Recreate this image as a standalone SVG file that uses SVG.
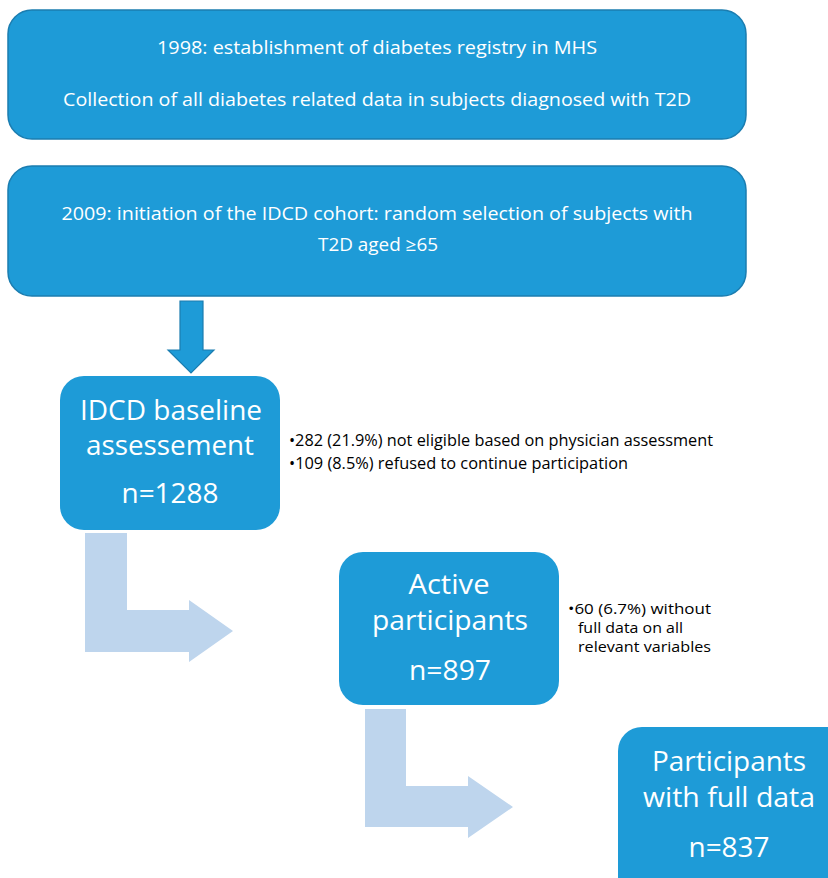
<svg xmlns="http://www.w3.org/2000/svg" width="828" height="878" viewBox="0 0 828 878">
  <style>
    .box { fill: #1E9BD7; }
    .boxline { stroke: #1B7DB0; stroke-width: 1.5; }
    .t { font-family: "Open Sans", "Noto Sans", "Liberation Sans", sans-serif; fill: #FFFFFF; text-anchor: middle; }
    .mid { font-size: 18px; }
    .big { font-size: 28px; }
    .note { font-family: "Open Sans", "Noto Sans", "Liberation Sans", sans-serif; fill: #000000; font-size: 15.5px; }
    .note.tight { font-size: 14px; }
    .down { fill: #1E9BD7; stroke: #1B7DB0; stroke-width: 1.2; }
    .bend { fill: #BED5ED; }
  </style>
  <rect width="828" height="878" fill="#FFFFFF"/>

  <g id="connectors">
    <path class="down" d="M180,301 H203 V350 H214 L191,373 L168,350 H180 Z"/>
    <path class="bend" d="M85,533 H127 V610 H189 V600 L233,631 L189,662 V652 H85 Z"/>
    <path class="bend" d="M365,709 H406 V786 H468 V776 L513,807 L468,838 V827 H365 Z"/>
  </g>

  <g id="registry">
    <rect class="box boxline" x="8" y="10" width="738" height="129" rx="24"/>
    <text class="t mid" x="377" y="54" textLength="440" lengthAdjust="spacingAndGlyphs">1998: establishment of diabetes registry in MHS</text>
    <text class="t mid" x="377" y="106" textLength="628" lengthAdjust="spacingAndGlyphs">Collection of all diabetes related data in subjects diagnosed with T2D</text>
  </g>

  <g id="cohort">
    <rect class="box boxline" x="8" y="166" width="738" height="130" rx="24"/>
    <text class="t mid" x="377" y="220" textLength="631" lengthAdjust="spacingAndGlyphs">2009: initiation of the IDCD cohort: random selection of subjects with</text>
    <text class="t mid" x="378" y="251" textLength="120" lengthAdjust="spacingAndGlyphs">T2D aged ≥65</text>
  </g>

  <g id="baseline">
    <rect class="box" x="60" y="376" width="220" height="154" rx="24"/>
    <text class="t big" x="171" y="420" textLength="182" lengthAdjust="spacingAndGlyphs">IDCD baseline</text>
    <text class="t big" x="170" y="455" textLength="168" lengthAdjust="spacingAndGlyphs">assessement</text>
    <text class="t big" x="170" y="503" textLength="97" lengthAdjust="spacingAndGlyphs">n=1288</text>
  </g>

  <g id="baseline-notes">
    <text class="note" x="289" y="446" textLength="424" lengthAdjust="spacingAndGlyphs">•282 (21.9%) not eligible based on physician assessment</text>
    <text class="note" x="289" y="469" textLength="339" lengthAdjust="spacingAndGlyphs">•109 (8.5%) refused to continue participation</text>
  </g>

  <g id="active">
    <rect class="box" x="339" y="552" width="220" height="153" rx="24"/>
    <text class="t big" x="449" y="594" textLength="81" lengthAdjust="spacingAndGlyphs">Active</text>
    <text class="t big" x="450" y="630" textLength="156" lengthAdjust="spacingAndGlyphs">participants</text>
    <text class="t big" x="450" y="680" textLength="82" lengthAdjust="spacingAndGlyphs">n=897</text>
  </g>

  <g id="active-notes">
    <text class="note tight" x="568" y="614" textLength="143" lengthAdjust="spacingAndGlyphs">•60 (6.7%) without</text>
    <text class="note tight" x="578" y="633" textLength="105" lengthAdjust="spacingAndGlyphs">full data on all</text>
    <text class="note tight" x="578" y="652" textLength="133" lengthAdjust="spacingAndGlyphs">relevant variables</text>
  </g>

  <g id="full-data">
    <rect class="box" x="618" y="727" width="240" height="180" rx="24"/>
    <text class="t big" x="729" y="771" textLength="154" lengthAdjust="spacingAndGlyphs">Participants</text>
    <text class="t big" x="729" y="807" textLength="172" lengthAdjust="spacingAndGlyphs">with full data</text>
    <text class="t big" x="729" y="857" textLength="81" lengthAdjust="spacingAndGlyphs">n=837</text>
  </g>
</svg>
